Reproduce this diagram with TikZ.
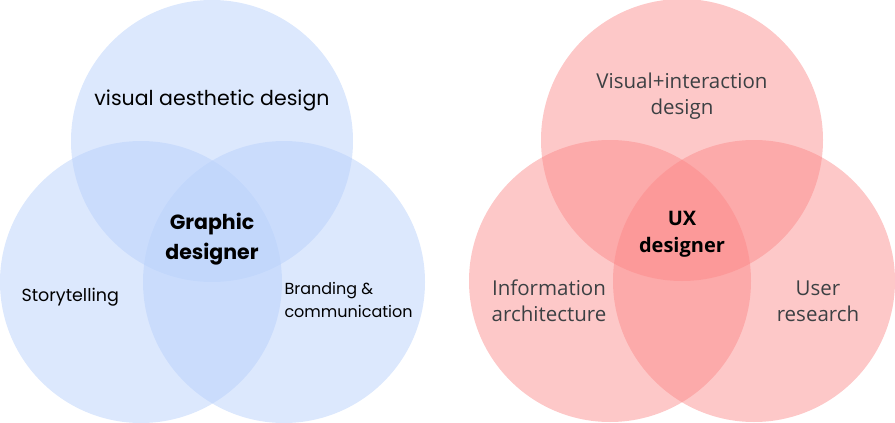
\documentclass[tikz,border=0pt]{standalone}
\usepackage{fontspec}
\newfontfamily\gdfont{Poppins}
\newfontfamily\uxfont{Open Sans}
\usetikzlibrary{positioning}
\definecolor{gdblue}{RGB}{185,209,251}
\definecolor{uxred}{RGB}{251,133,133}
\definecolor{txtgray}{RGB}{60,64,67}

\begin{document}
\begin{tikzpicture}[
  x=1pt, y=-1pt,
  set/.style={circle, minimum size=282pt, inner sep=0pt, fill opacity=#1, text opacity=1},
  gdset/.style={set=0.5, fill=gdblue},
  uxset/.style={set=0.45, fill=uxred},
  gdlabel/.style={align=left, font=\gdfont\fontsize{16}{23}\selectfont, text=black},
  uxlabel/.style={align=center, font=\uxfont\fontsize{20.5}{26}\selectfont, text=txtgray},
  core/.style={align=center, text=black}
]
\useasboundingbox (0,0) rectangle (895,423);
% graphic designer
\node[gdset] (visual) at (212,141) {};
\node[gdset] (story) at (141,282) {};
\node[gdset] (brand) at (284,282) {};
\node[gdlabel, font=\gdfont\fontsize{20.5}{24}\selectfont] (visualtxt) at (212,100) {visual aesthetic design};
\node[gdlabel, anchor=west, font=\gdfont\fontsize{17.5}{23}\selectfont] (storytxt) at (18,297) {Storytelling};
\node[gdlabel, anchor=west] (brandtxt) at (281,300) {Branding \&\\communication};
\node[core, font=\gdfont\bfseries\fontsize{20.5}{30}\selectfont] (gd) at (212,239) {Graphic\\designer};
% ux designer
\node[uxset] (interact) at (682,140) {};
\node[uxset] (info) at (610,281) {};
\node[uxset] (research) at (754,281) {};
\node[uxlabel] (interacttxt) at (682,96) {Visual+interaction\\design};
\node[uxlabel] (infotxt) at (549,301) {Information\\architecture};
\node[uxlabel] (researchtxt) at (818,301) {User\\research};
\node[core, font=\uxfont\bfseries\fontsize{20}{27}\selectfont] (ux) at (682,234) {UX\\designer};
\end{tikzpicture}
\end{document}
